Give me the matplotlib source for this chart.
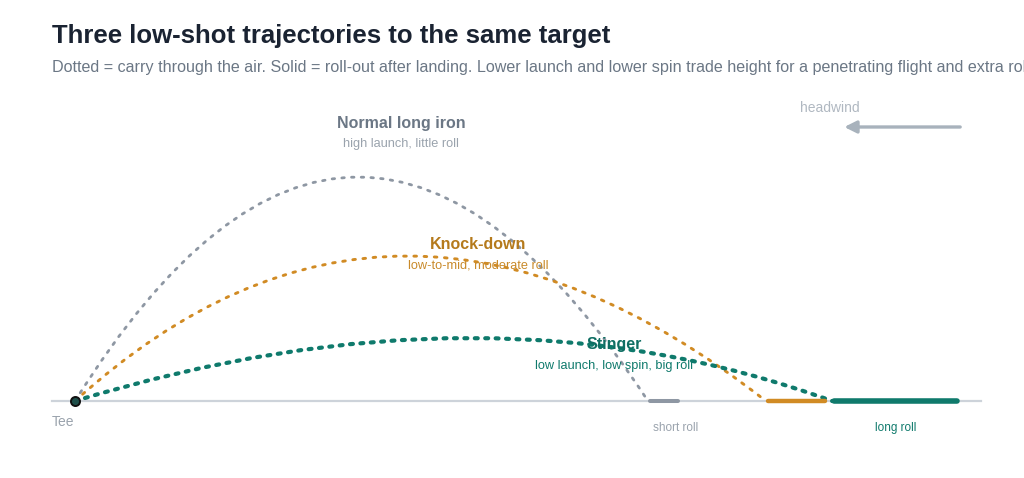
import matplotlib.pyplot as plt
from matplotlib.path import Path
from matplotlib.patches import PathPatch

plt.rcParams['font.family'] = ['Liberation Sans', 'DejaVu Sans']

# distances in yards, heights in feet
shots = ["Normal long iron", "Knock-down", "Stinger"]
notes = ["high launch, little roll", "low-to-mid, moderate roll", "low launch, low spin, big roll"]
carry_yd = [163.7, 197.4, 216.3]
roll_yd = [8.6, 16.9, 35.7]
ctrl_x = [80.0, 91.4, 117.7]     # bezier control point of each flight
ctrl_ft = [224.0, 145.0, 63.0]
roll_labels = ["short roll", "", "long roll"]

line_col = ["#8e97a3", "#d18b24", "#0f7a6c"]
title_col = ["#6b7785", "#b57a1c", "#0f6e63"]
note_col = ["#9aa3ad", "#c98a2a", "#0f7a6c"]
flight_lw = [2.0, 2.1, 3.0]
flight_dash = [(0.9, 2.6), (0.9, 2.6), (0.7, 1.8)]
roll_lw = [2.9, 3.2, 4.0]

fig = plt.figure(figsize=(10.24, 4.78), dpi=100)
ax = fig.add_axes([0, 0, 1, 1])
ax.set_xlim(-21.43, 271.14)
ax.set_ylim(-38.5, 200.5)
ax.axis("off")

# ground
ax.plot([-6.6, 258.9], [0, 0], color="#cdd3da", lw=1.6, zorder=1)

for i in range(3):
    verts = [(0, 0), (ctrl_x[i], ctrl_ft[i]), (carry_yd[i], 0)]
    p = Path(verts, [Path.MOVETO, Path.CURVE3, Path.CURVE3])
    patch = PathPatch(p, fill=False, edgecolor=line_col[i], lw=flight_lw[i],
                      linestyle=(0, flight_dash[i]), capstyle="round", zorder=3)
    ax.add_patch(patch)
    ax.plot([carry_yd[i] + 0.6, carry_yd[i] + roll_yd[i]], [0, 0], color=line_col[i],
            lw=roll_lw[i], solid_capstyle="round", zorder=4)

# tee
ax.plot([0], [0], "o", ms=6.5, mfc="#1f4f4a", mec="#111111", mew=1.4, zorder=6)
ax.text(-6.6, -10.5, "Tee", color="#9aa3ad", fontsize=10, ha="left", va="center")

# shot labels
lab_pos = [(93.1, 139), (115.1, 78.5), (154.0, 28.0)]
for i in range(3):
    x, y = lab_pos[i]
    ax.text(x, y, shots[i], color=title_col[i], fontsize=11.5, fontweight="bold",
            ha="center", va="center", zorder=5)
    ax.text(x, y - 10.5, notes[i], color=note_col[i], fontsize=9.2,
            ha="center", va="center", zorder=5)

ax.text(171.7, -13.5, roll_labels[0], color="#9aa3ad", fontsize=8.5, ha="center", va="center")
ax.text(234.6, -13.5, roll_labels[2], color="#0f7a6c", fontsize=8.5, ha="center", va="center")

# headwind
ax.text(207.0, 146.5, "headwind", color="#b0b8c1", fontsize=10, ha="left", va="center")
ax.annotate("", xy=(219.0, 137), xytext=(253.7, 137),
            arrowprops=dict(arrowstyle="-|>", color="#a8b2bc", lw=2.4, mutation_scale=18))

fig.text(52 / 1024, 1 - 36 / 478, "Three low-shot trajectories to the same target",
         fontsize=18.5, fontweight="bold", color="#1a2332", ha="left", va="center")
fig.text(52 / 1024, 1 - 67 / 478,
         "Dotted = carry through the air. Solid = roll-out after landing. Lower launch and lower spin "
         "trade height for a penetrating flight and extra roll.",
         fontsize=11.6, color="#6b7785", ha="left", va="center")

fig.savefig("out.png", dpi=100, facecolor="white")
